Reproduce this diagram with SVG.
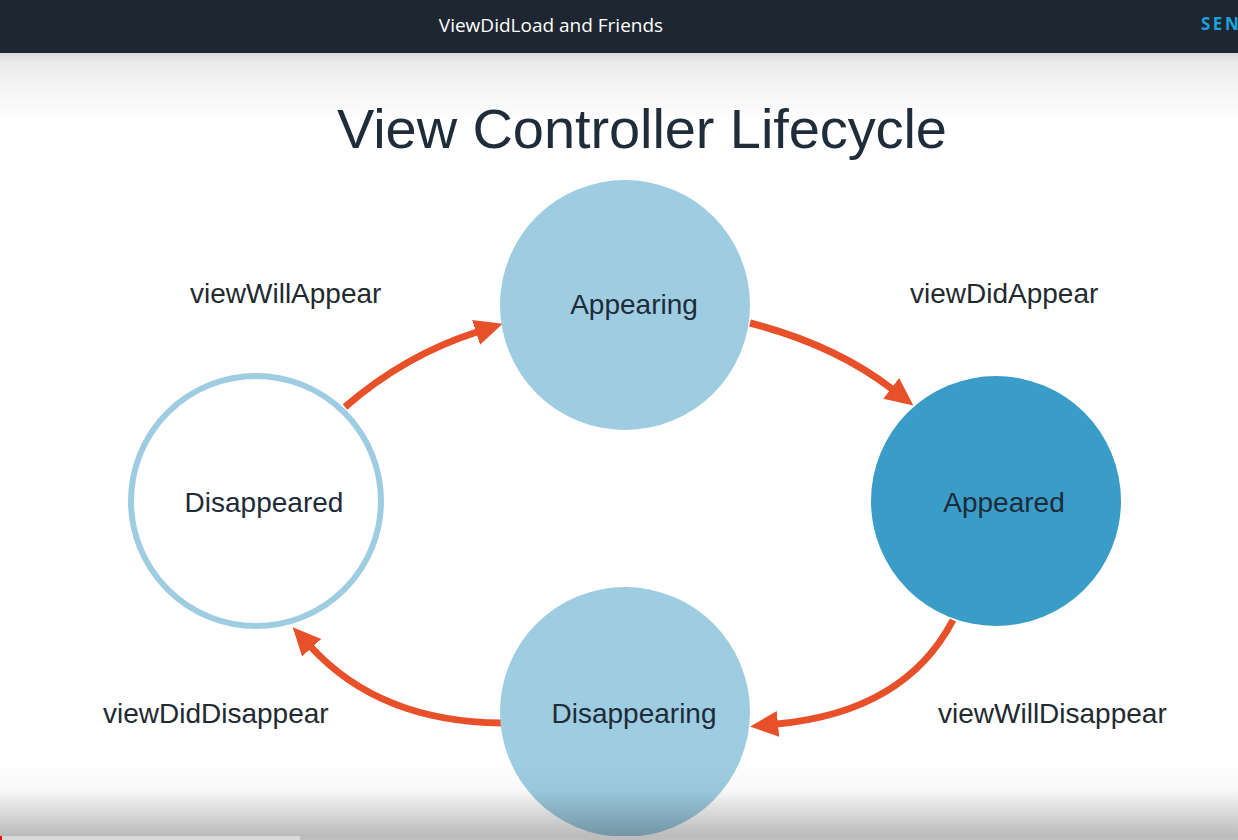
<svg xmlns="http://www.w3.org/2000/svg" width="1238" height="840" viewBox="0 0 1238 840">
<defs>
<linearGradient id="topShade" x1="0" y1="0" x2="0" y2="1">
<stop offset="0" stop-color="#d9d9d9"/>
<stop offset="0.15" stop-color="#ececec"/>
<stop offset="1" stop-color="#ffffff"/>
</linearGradient>
<linearGradient id="botShade" x1="0" y1="0" x2="0" y2="1">
<stop offset="0" stop-color="#000" stop-opacity="0"/>
<stop offset="0.4" stop-color="#000" stop-opacity="0.03"/>
<stop offset="1" stop-color="#000" stop-opacity="0.27"/>
</linearGradient>
<marker id="head" viewBox="0 -14 30 28" refX="1" refY="0" markerWidth="30" markerHeight="28" markerUnits="userSpaceOnUse" orient="auto">
<path d="M0,-13 L28,0 L0,13 Z" fill="#e8502a"/>
</marker>
</defs>
<style>
.node-lbl{font-family:"Liberation Sans",Arial,sans-serif;font-size:28px;fill:#1e2b38;text-anchor:middle}
.edge-lbl{font-family:"Liberation Sans",Arial,sans-serif;font-size:28px;fill:#222a30}
.light{fill:#9ecde2}
.conn{fill:none;stroke:#e8502a;stroke-width:7;marker-end:url(#head)}
</style>
<rect x="0" y="0" width="1238" height="840" fill="#ffffff"/>
<rect x="0" y="53" width="1238" height="70" fill="url(#topShade)"/>
<rect x="0" y="0" width="1238" height="53" fill="#1e2731"/>
<text x="551" y="32" font-family="Open Sans,sans-serif" font-size="19" fill="#ffffff" text-anchor="middle">ViewDidLoad and Friends</text>
<text x="1201" y="30" font-family="Open Sans,sans-serif" font-size="17" font-weight="bold" letter-spacing="2.5" fill="#1da1dd">SEN</text>
<text x="642" y="148" font-family="Liberation Sans,Arial,sans-serif" font-size="56" fill="#1f2d3a" text-anchor="middle" textLength="610">View Controller Lifecycle</text>
<g id="connectors">
<path class="conn" d="M345,407 Q405,355 477,332"/>
<path class="conn" d="M750,323 Q835,345 892,389"/>
<path class="conn" d="M953,620 Q905,712 777,724"/>
<path class="conn" d="M502,723 Q380,722 311,647"/>
</g>
<g id="appearing">
<circle class="light" cx="625" cy="305" r="125"/>
<text class="node-lbl" x="634" y="314">Appearing</text>
</g>
<g id="appeared">
<circle cx="996" cy="501" r="125" fill="#3a9dc8"/>
<text class="node-lbl" x="1004" y="512">Appeared</text>
</g>
<g id="disappeared">
<circle cx="256" cy="501" r="125" fill="#ffffff" stroke="#9ecde2" stroke-width="6"/>
<text class="node-lbl" x="264" y="512">Disappeared</text>
</g>
<g id="disappearing">
<circle class="light" cx="625" cy="712" r="125"/>
<text class="node-lbl" x="634" y="723">Disappearing</text>
</g>
<g id="edge-labels">
<text class="edge-lbl" x="190" y="303">viewWillAppear</text>
<text class="edge-lbl" x="910" y="303">viewDidAppear</text>
<text class="edge-lbl" x="103" y="723">viewDidDisappear</text>
<text class="edge-lbl" x="938" y="723">viewWillDisappear</text>
</g>
<rect x="0" y="760" width="1238" height="76" fill="url(#botShade)"/>
<rect x="0" y="836" width="300" height="4" fill="#d9d9d9"/>
<rect x="300" y="836" width="938" height="4" fill="#bdbdbd"/>
<rect x="0" y="836" width="2" height="4" fill="#ff0000"/>
</svg>
